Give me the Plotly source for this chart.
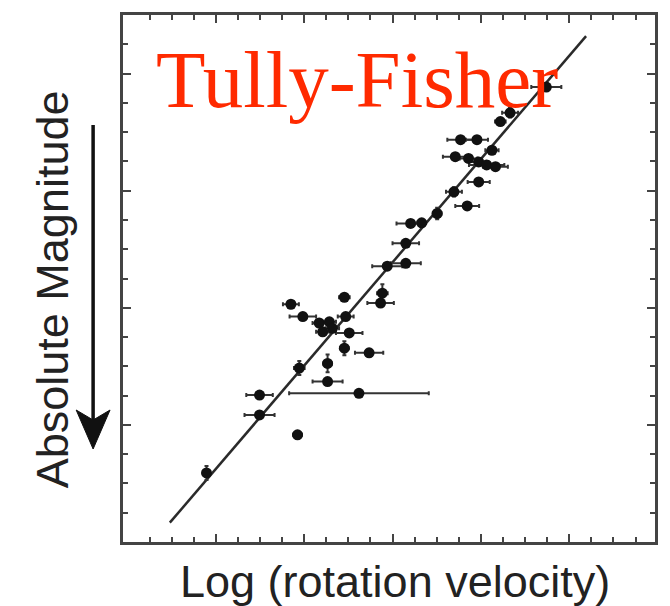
import plotly.graph_objects as go

# Galaxy data: log rotation velocity, absolute magnitude, errors
log_v = [2.548, 2.466, 2.444, 2.354, 2.391, 2.425, 2.342, 2.372, 2.395, 2.413,
         2.433, 2.395, 2.339, 2.369, 2.301, 2.241, 2.266, 2.230, 2.188, 2.230,
         2.177, 2.173, 2.091, 1.970, 1.997, 2.034, 2.057, 2.042, 2.064, 2.094,
         2.102, 2.091, 2.147, 2.053, 1.989, 2.053, 1.899, 2.124, 1.899, 1.985,
         1.779]
abs_mag = [-22.77, -22.33, -22.18, -21.87, -21.87, -21.69, -21.58, -21.55, -21.49, -21.44,
           -21.41, -21.15, -20.98, -20.74, -20.61, -20.44, -20.45, -20.10, -19.71, -19.76,
           -19.25, -19.08, -19.18, -19.06, -18.85, -18.74, -18.76, -18.59, -18.65, -18.85,
           -18.57, -18.31, -18.23, -18.05, -17.97, -17.74, -17.51, -17.54, -17.17, -16.83,
           -16.18]
err_logv = [0.034, 0.018, 0.012, 0.030, 0.025, 0.015, 0.028, 0.020, 0.022, 0.040,
            0.028, 0.025, 0.018, 0.027, 0.010, 0.032, 0.010, 0.030, 0.034, 0.034,
            0.012, 0.030, 0.012, 0.018, 0.030, 0.015, 0.015, 0.015, 0.015, 0.018,
            0.030, 0.010, 0.032, 0.010, 0.012, 0.034, 0.030, 0.158, 0.034, 0.010,
            0.005]
err_mag = [0, 0.08, 0, 0, 0, 0, 0, 0, 0, 0,
           0, 0, 0.08, 0, 0.10, 0, 0, 0, 0, 0,
           0.15, 0, 0, 0, 0, 0, 0, 0, 0, 0,
           0, 0.12, 0, 0.15, 0.12, 0, 0, 0, 0, 0,
           0.12]

# Fitted Tully-Fisher relation
fit_logv = [1.696, 2.638]
fit_mag = [-15.33, -23.64]

x_major = [1.8, 2.0, 2.2, 2.4, 2.6]
x_minor = [1.65, 1.7, 1.75, 1.85, 1.9, 1.95, 2.05, 2.1, 2.15, 2.25, 2.3, 2.35,
           2.45, 2.5, 2.55, 2.65, 2.7, 2.75]
y_major = [-23, -21, -19, -17]

fig = go.Figure()
fig.add_trace(go.Scatter(
    x=fit_logv, y=fit_mag, mode="lines",
    line=dict(color="#2a2a2a", width=2.5), showlegend=False))
fig.add_trace(go.Scatter(
    x=log_v, y=abs_mag, mode="markers",
    marker=dict(color="#111111", size=11),
    error_x=dict(type="data", array=err_logv, color="#333333", thickness=2, width=2),
    error_y=dict(type="data", array=err_mag, color="#333333", thickness=2, width=2),
    showlegend=False))

axis_common = dict(showline=True, linewidth=2.5, linecolor="#444444", mirror="allticks",
                   ticks="inside", tickwidth=2, tickcolor="#444444", showticklabels=False,
                   showgrid=False, zeroline=False)

fig.update_xaxes(range=[1.59, 2.794], tickmode="array", tickvals=x_major, ticklen=8,
                 minor=dict(tickmode="array", tickvals=x_minor, ticks="inside", ticklen=5,
                            tickwidth=2, tickcolor="#444444", showgrid=False),
                 **axis_common)
fig.update_yaxes(range=[-15, -24], tickmode="array", tickvals=y_major, ticklen=8,
                 minor=dict(dtick=0.5, tick0=-24, ticks="inside", ticklen=5,
                            tickwidth=2, tickcolor="#444444", showgrid=False),
                 **axis_common)

L, R, T, B = 123, 13, 15, 64
W, H = 670, 606
pw, ph = W - L - R, H - T - B


def px(x):
    return (x - L) / pw


def py(y):
    return (H - B - y) / ph


annotations = [
    dict(text="Tully-Fisher", x=px(154), y=py(80), xref="paper", yref="paper",
         xanchor="left", yanchor="middle", showarrow=False,
         font=dict(family="Liberation Serif, Times New Roman, serif", size=81, color="#ff2a00")),
    dict(text="Absolute Magnitude", x=px(52), y=py(289), xref="paper", yref="paper",
         xanchor="center", yanchor="middle", textangle=-90, showarrow=False,
         font=dict(family="Liberation Sans, Arial, sans-serif", size=45, color="#222222")),
    dict(text="Log (rotation velocity)", x=px(396), y=py(581), xref="paper", yref="paper",
         xanchor="center", yanchor="middle", showarrow=False,
         font=dict(family="Liberation Sans, Arial, sans-serif", size=45, color="#222222")),
]

shapes = [
    dict(type="line", xref="paper", yref="paper", x0=px(93), x1=px(93), y0=py(125), y1=py(420),
         line=dict(color="#111111", width=3.5)),
    dict(type="path", xref="paper", yref="paper",
         path=f"M {px(93)},{py(449)} L {px(76)},{py(410)} L {px(93)},{py(420)} L {px(110)},{py(410)} Z",
         fillcolor="#111111", line=dict(color="#111111", width=1)),
]

fig.update_layout(width=W, height=H, margin=dict(l=L, r=R, t=T, b=B),
                  plot_bgcolor="white", paper_bgcolor="white",
                  annotations=annotations, shapes=shapes)

fig.write_html("out.html")
